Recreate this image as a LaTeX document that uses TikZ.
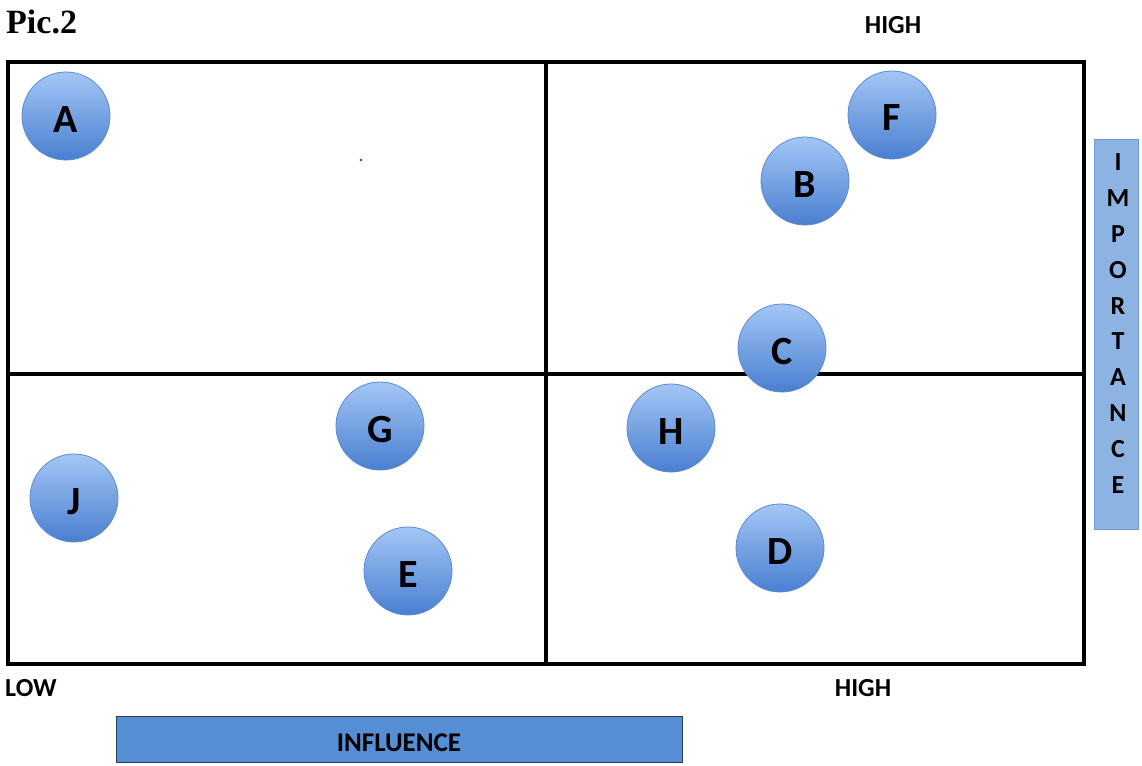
\documentclass[tikz,border=0pt]{standalone}
\usepackage{fontspec}
\setmainfont{Carlito}
\newfontfamily\timesf{Liberation Serif}
\definecolor{ctop}{HTML}{A3C6F5}
\definecolor{cbot}{HTML}{4A7FD0}
\definecolor{cedge}{HTML}{5B8CD3}
\definecolor{impfill}{HTML}{8DB3E2}
\definecolor{impedge}{HTML}{6F97D0}
\definecolor{inffill}{HTML}{558ED5}
\definecolor{infedge}{HTML}{2C3E55}
\begin{document}
\begin{tikzpicture}[x=1pt,y=-1pt,
  bub/.style={circle,minimum size=88pt,inner sep=0pt,draw=cedge,line width=0.8pt,
    top color=ctop,bottom color=cbot,font=\fontsize{40}{42}\selectfont\bfseries,
    text height=32pt,text depth=0pt},
  axlab/.style={font=\fontsize{26}{28}\selectfont\bfseries,inner sep=0pt},
  grid/.style={line width=4pt,draw=black}]
\useasboundingbox (0,0) rectangle (1142,765);
\fill[white] (0,0) rectangle (1142,765);
\node[font=\timesf\fontsize{34}{36}\selectfont\bfseries,anchor=west,inner sep=0pt] (pic) at (6,22) {Pic.2};
\draw[grid] (8,62) rectangle (1084,664);
\draw[grid] (546,62) -- (546,664);
\draw[grid] (8,374) -- (1084,374);
\fill[blue!80] (361,160) circle (1.3pt);
\node[bub] (A) at (66,116) {A};
\node[bub] (F) at (892,115) {F};
\node[bub] (B) at (805,181) {B};
\node[bub] (C) at (782,348) {C};
\node[bub] (G) at (380,426) {G};
\node[bub] (H) at (671,428) {H};
\node[bub] (J) at (74,498) {J};
\node[bub] (E) at (408,571) {E};
\node[bub] (D) at (780,548) {D};
\node[axlab] (hightop) at (893,25) {HIGH};
\node[axlab] (highbot) at (863,688) {HIGH};
\node[axlab,anchor=west] (low) at (5,688) {LOW};
\node[draw=infedge,fill=inffill,line width=1pt,minimum width=566pt,minimum height=46pt,inner sep=0pt] (infl) at (399,739) {};
\node[font=\fontsize{27}{28}\selectfont\bfseries,inner sep=0pt] (infltxt) at (399,743) {INFLUENCE};
\node[draw=impedge,fill=impfill,line width=1pt,minimum width=44pt,minimum height=390pt,inner sep=0pt] (imp) at (1116,334) {};
\foreach \l [count=\i from 0] in {I,M,P,O,R,T,A,N,C,E}
  \node[axlab] (imp\i) at (1118,{162+35.9*\i}) {\l};
\end{tikzpicture}
\end{document}
